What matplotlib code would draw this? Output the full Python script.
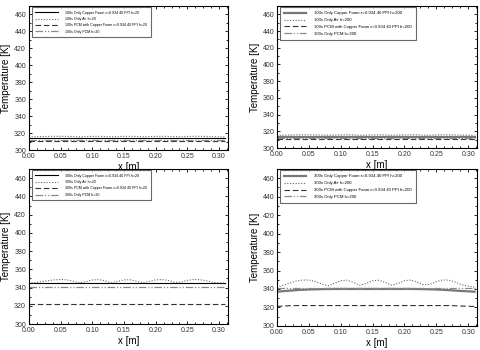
import matplotlib
matplotlib.use('Agg')
import matplotlib.pyplot as plt
from matplotlib.ticker import MultipleLocator, AutoMinorLocator

plt.rcParams['font.family'] = ['Liberation Sans', 'DejaVu Sans']

# posicoes ao longo da placa [m]
x = [0.00, 0.01, 0.02, 0.03, 0.04, 0.05, 0.06, 0.07, 0.08, 0.09, 0.10,
     0.11, 0.12, 0.13, 0.14, 0.15, 0.16, 0.17, 0.18, 0.19, 0.20, 0.21,
     0.22, 0.23, 0.24, 0.25, 0.26, 0.27, 0.28, 0.29, 0.30, 0.31]

# 100s, h=20
t100_foam_h20 = [314.5] * 32
t100_air_h20 = [315.6, 315.8, 316.0, 316.2, 316.3, 316.3, 316.2, 316.0, 315.8, 315.9, 316.2,
                316.3, 316.1, 315.8, 315.9, 316.2, 316.3, 316.1, 315.8, 315.9, 316.2, 316.3,
                316.2, 315.9, 315.8, 316.1, 316.3, 316.3, 316.1, 315.9, 315.7, 315.6]
t100_pcmfoam_h20 = [311.0] * 32
t100_pcm_h20 = [312.2] * 32

# 100s, h=200
t100_foam_h200 = [313.3] * 32
t100_air_h200 = [315.2, 315.4, 315.6, 315.8, 315.9, 315.9, 315.8, 315.6, 315.4, 315.5, 315.8,
                 315.9, 315.7, 315.4, 315.5, 315.8, 315.9, 315.7, 315.4, 315.5, 315.8, 315.9,
                 315.8, 315.5, 315.4, 315.7, 315.9, 315.9, 315.7, 315.5, 315.3, 315.2]
t100_pcmfoam_h200 = [311.0] * 32
t100_pcm_h200 = [312.0] * 32

# 300s, h=20
t300_foam_h20 = [345.0] * 32
t300_air_h20 = [345.0, 345.5, 346.5, 347.5, 348.5, 349.0, 348.5, 347.0, 345.2, 346.5, 348.3,
                348.8, 347.5, 345.3, 346.8, 348.5, 348.6, 347.0, 345.3, 346.8, 348.5, 348.8,
                347.8, 345.8, 346.0, 348.0, 348.9, 348.7, 347.5, 345.8, 345.2, 345.0]
t300_pcmfoam_h20 = [322.0] * 32
t300_pcm_h20 = [341.0] * 32

# 300s, h=200
t300_foam_h200 = [337.0, 337.6, 338.2, 338.7, 339.1, 339.4, 339.6, 339.8, 339.9, 340.0, 340.0,
                  340.0, 340.0, 340.0, 340.0, 340.0, 340.0, 340.0, 340.0, 340.0, 340.0, 340.0,
                  339.9, 339.8, 339.6, 339.4, 339.1, 338.7, 338.2, 337.8, 337.4, 337.0]
t300_air_h200 = [342.0, 344.0, 346.5, 348.5, 349.7, 349.7, 348.0, 345.5, 343.5, 346.0, 349.0,
                 349.5, 347.0, 344.0, 346.0, 349.0, 349.5, 347.0, 344.0, 346.0, 349.0, 349.7,
                 347.5, 344.5, 345.0, 348.0, 349.8, 349.5, 347.5, 344.5, 343.0, 342.0]
t300_pcmfoam_h200 = [321.0, 321.5, 321.8, 322.0, 322.0, 322.0, 322.0, 322.0, 322.0, 322.0, 322.0,
                     322.0, 322.0, 322.0, 322.0, 322.0, 322.0, 322.0, 322.0, 322.0, 322.0, 322.0,
                     322.0, 322.0, 322.0, 322.0, 322.0, 322.0, 321.8, 321.5, 321.2, 321.0]
t300_pcm_h200 = [341.0] * 32

paineis = [
    ('100s', 'h=20', [t100_foam_h20, t100_air_h20, t100_pcmfoam_h20, t100_pcm_h20]),
    ('100s', 'h=200', [t100_foam_h200, t100_air_h200, t100_pcmfoam_h200, t100_pcm_h200]),
    ('300s', 'h=20', [t300_foam_h20, t300_air_h20, t300_pcmfoam_h20, t300_pcm_h20]),
    ('300s', 'h=200', [t300_foam_h200, t300_air_h200, t300_pcmfoam_h200, t300_pcm_h200]),
]

posicoes = [
    [0.060, 0.571, 0.415, 0.412],
    [0.577, 0.577, 0.417, 0.406],
    [0.060, 0.074, 0.415, 0.443],
    [0.577, 0.069, 0.417, 0.448],
]

fig = plt.figure(figsize=(4.8, 3.5), dpi=100)

for i, (tempo, h, series) in enumerate(paineis):
    ax = fig.add_axes(posicoes[i])
    direita = h == 'h=200'
    grosso = 1.6 if direita else 0.8
    cor_solida = '#777777' if direita else 'black'
    ax.plot(x, series[0], color=cor_solida, lw=grosso, ls='-',
            label=tempo + ' Only Copper Foam \u03b5=0.934 40 PPI ' + h)
    ax.plot(x, series[1], color='#666666', lw=0.8, ls=(0, (1, 1.5)),
            label=tempo + ' Only Air ' + h)
    ax.plot(x, series[2], color='#333333', lw=0.8, ls=(0, (5, 2.5)),
            label=tempo + ' PCM with Copper Foam \u03b5=0.934 40 PPI ' + h)
    ax.plot(x, series[3], color='#888888', lw=0.9, ls=(0, (6, 1.5, 1, 1.5, 1, 1.5)),
            label=tempo + ' Only PCM ' + h)
    ax.set_xlim(0, 0.314)
    ax.set_ylim(300, 470)
    ax.xaxis.set_major_locator(MultipleLocator(0.05))
    ax.xaxis.set_minor_locator(AutoMinorLocator(4))
    ax.yaxis.set_major_locator(MultipleLocator(20))
    ax.yaxis.set_minor_locator(AutoMinorLocator(2))
    ax.xaxis.set_major_formatter(plt.FormatStrFormatter('%.2f'))
    ax.tick_params(which='both', direction='in', top=True, right=True, labelsize=5,
                   width=0.6, pad=2, labelcolor='#333333')
    ax.tick_params(which='major', length=2.5)
    ax.tick_params(which='minor', length=1.5)
    for s in ax.spines.values():
        s.set_linewidth(0.8)
    ax.set_xlabel('x [m]', fontsize=7, labelpad=1.5)
    ax.set_ylabel('Temperature [K]', fontsize=7, labelpad=2)
    tam = 3.1 if direita else 2.6
    leg = ax.legend(loc='upper left', fontsize=tam, frameon=True, fancybox=False,
                    handlelength=16.0 / tam, handletextpad=5.5 / tam, borderpad=1.0,
                    labelspacing=0.65, borderaxespad=0,
                    bbox_to_anchor=(0.015, 0.993))
    leg.get_frame().set_edgecolor('#444444')
    leg.get_frame().set_linewidth(0.8)

fig.savefig('out.png', dpi=100)
